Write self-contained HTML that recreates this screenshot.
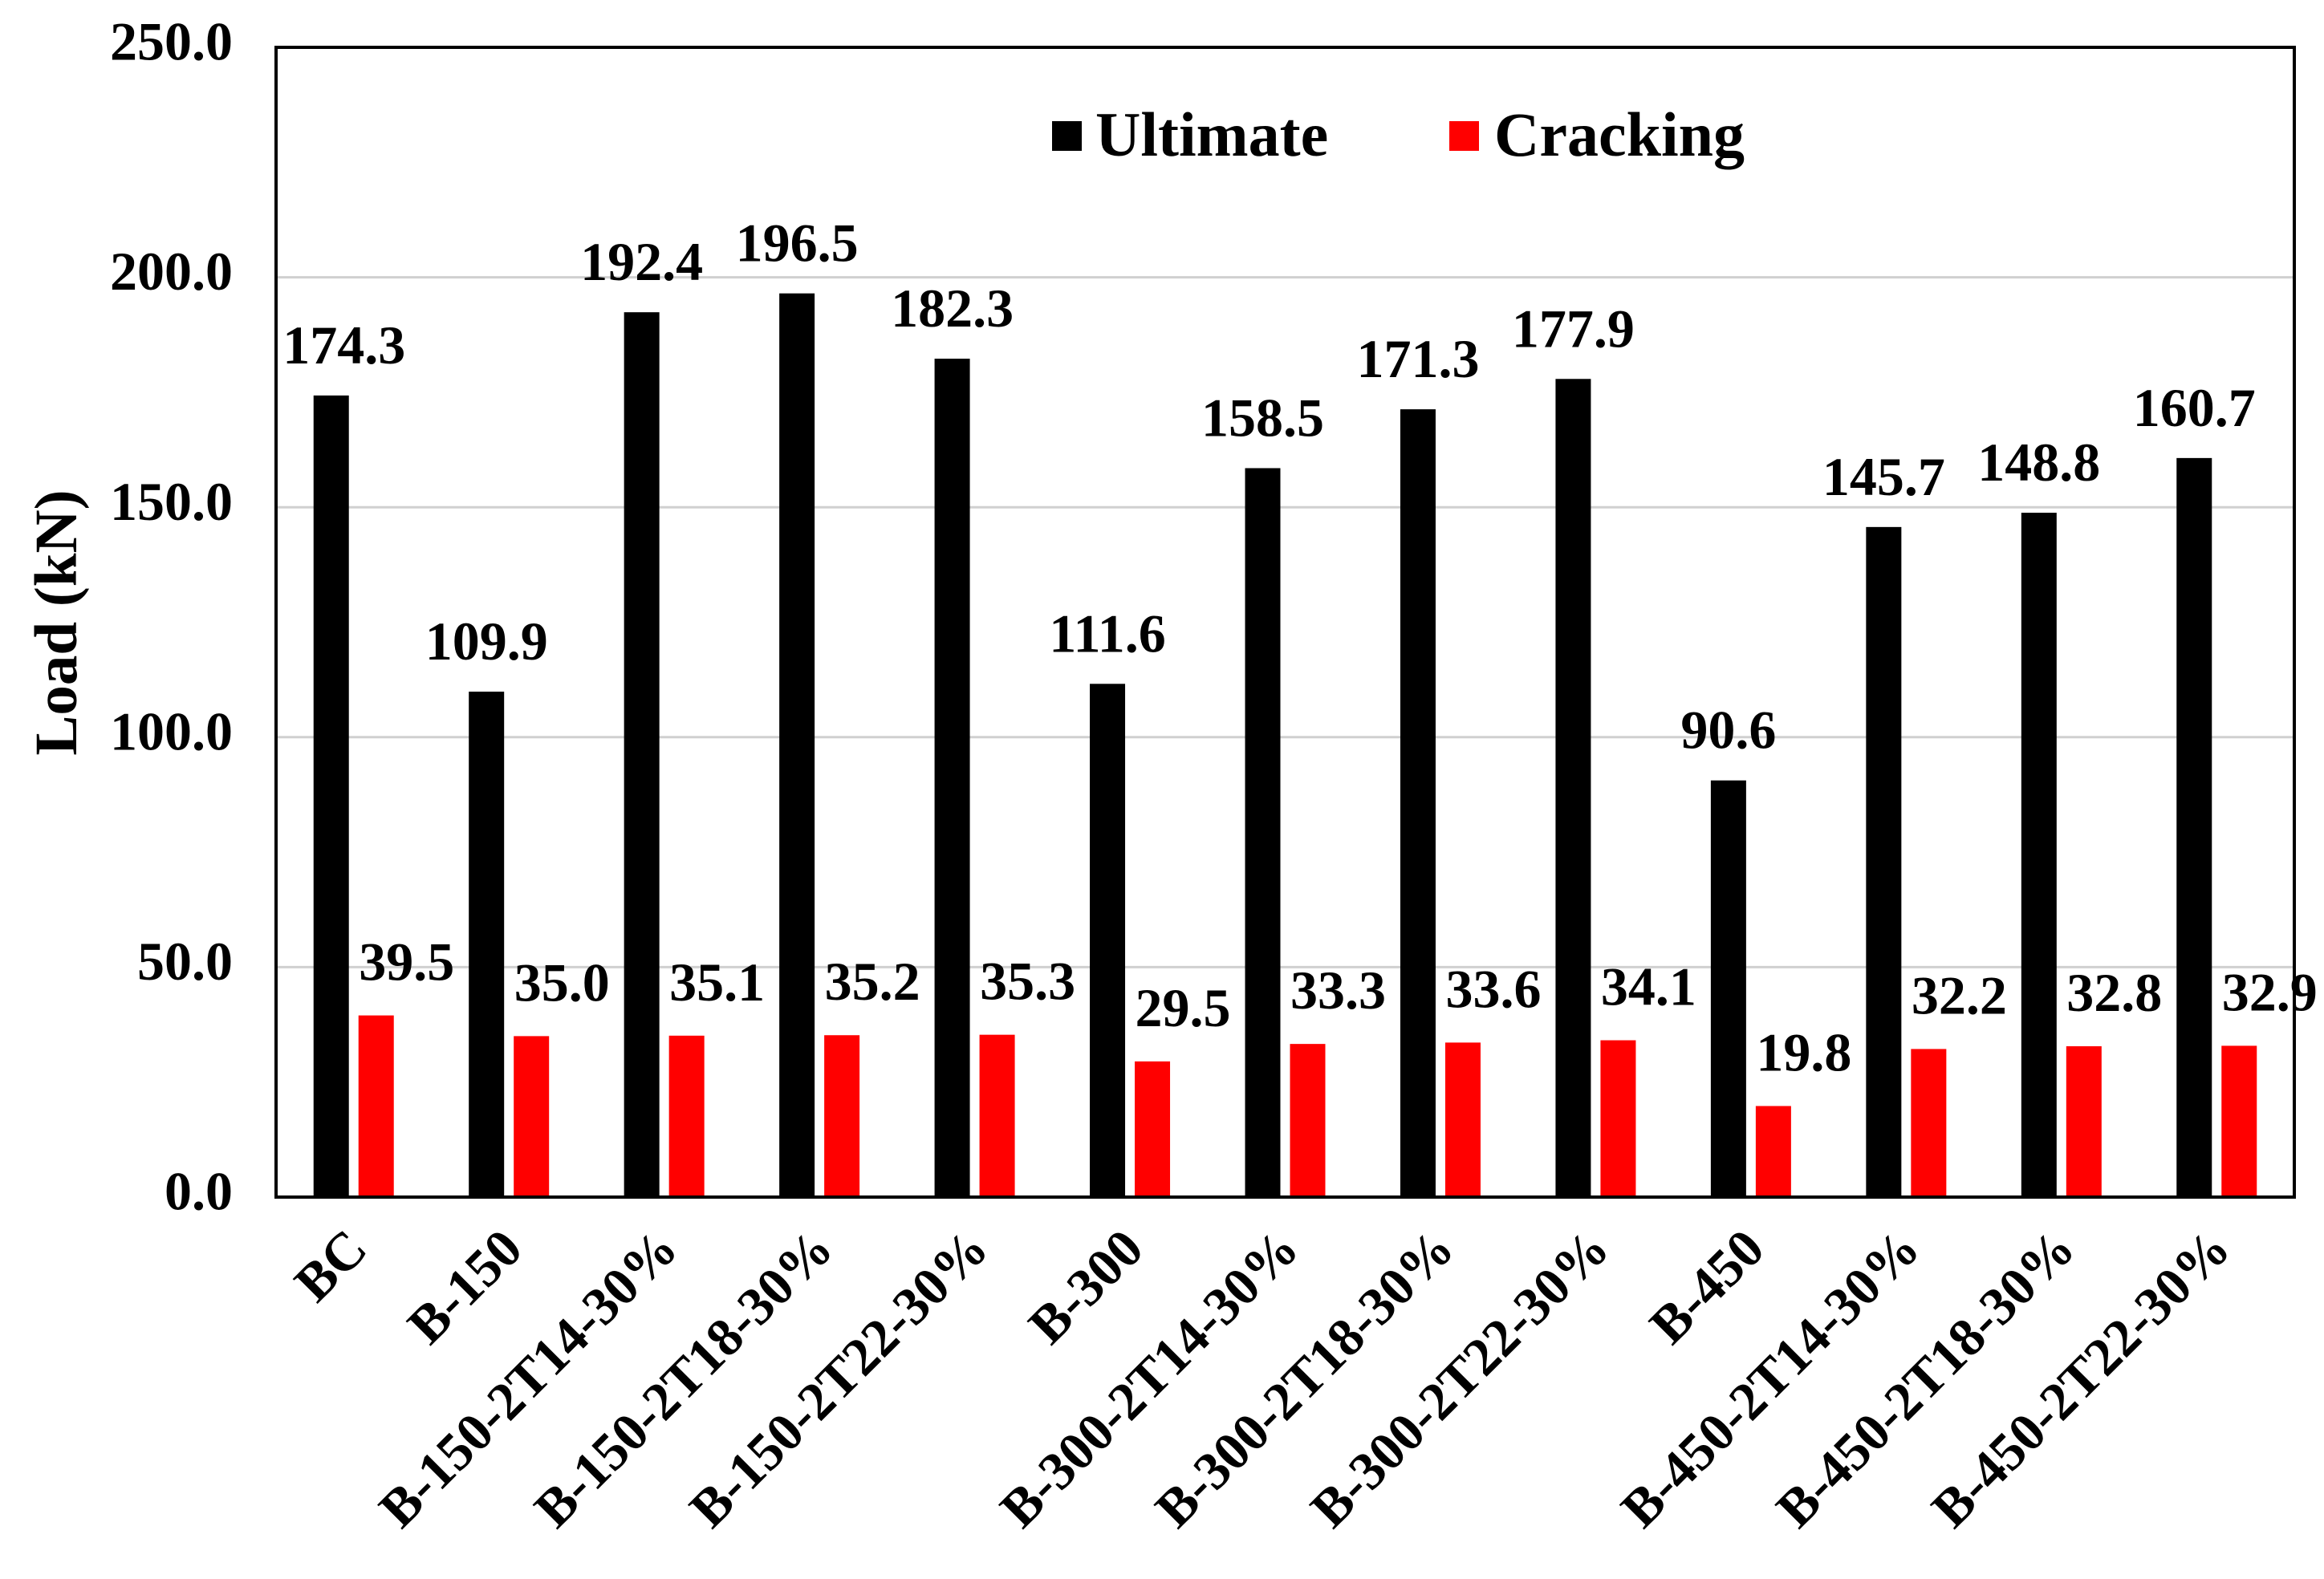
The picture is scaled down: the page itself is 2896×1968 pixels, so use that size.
<!DOCTYPE html>
<html><head><meta charset="utf-8"><style>
html,body{margin:0;padding:0;background:#fff;}
svg{display:block;font-family:"Liberation Serif",serif;font-weight:bold;}
</style></head><body>
<svg id="chart" width="2896" height="1968" viewBox="0 0 2896 1968" xmlns="http://www.w3.org/2000/svg">
<rect x="0" y="0" width="2896" height="1968" fill="#fff"/>
<g id="grid"></g>
<g id="bars"></g>
<g id="labels"></g>
<rect x="344" y="59" width="2515" height="1433" fill="none" stroke="#000" stroke-width="4"/>
<g id="yticks"></g>
<g id="xticks"></g>
<text x="78" y="776" font-size="75" text-anchor="middle" dominant-baseline="middle" transform="rotate(-90 78 776)">Load (kN)</text>
<g>
<rect x="1311" y="151" width="37" height="37" fill="#000"/>
<text x="1365" y="194" font-size="78">Ultimate</text>
<rect x="1806" y="151" width="37" height="37" fill="#ff0000"/>
<text x="1862" y="194" font-size="78">Cracking</text>
</g>
</svg>
<script>
const categories=["BC","B-150","B-150-2T14-30%","B-150-2T18-30%","B-150-2T22-30%","B-300","B-300-2T14-30%","B-300-2T18-30%","B-300-2T22-30%","B-450","B-450-2T14-30%","B-450-2T18-30%","B-450-2T22-30%"];
const ultimate=[174.3,109.9,192.4,196.5,182.3,111.6,158.5,171.3,177.9,90.6,145.7,148.8,160.7];
const cracking=[39.5,35.0,35.1,35.2,35.3,29.5,33.3,33.6,34.1,19.8,32.2,32.8,32.9];
const yTicks=[0,50,100,150,200,250];

const NS="http://www.w3.org/2000/svg";
const L=344,R=2859,T=59,B=1492,YMAX=250;
const band=(R-L)/categories.length;
function y(v){return B-(v/YMAX)*(B-T);}
function xc(i){return L+(i+0.5)*band;}
function mk(tag,attrs,parent,txt){const e=document.createElementNS(NS,tag);for(const k in attrs)e.setAttribute(k,attrs[k]);if(txt!==undefined)e.textContent=txt;document.getElementById(parent).appendChild(e);return e;}

yTicks.forEach(t=>{
  if(t>0&&t<YMAX){const g=mk('line',{x1:L,x2:R,y1:y(t),y2:y(t),stroke:'#d0d0d0','stroke-width':3},'grid');
  
  }
  const tl=mk('text',{x:290,y:y(t),'font-size':68,'text-anchor':'end','dominant-baseline':'middle'},'yticks',t.toFixed(1));
  
  
});
const bw=44,off=28;
categories.forEach((c,i)=>{
  const cx=xc(i);
  const b1=mk('rect',{x:cx-off-bw/2,y:y(ultimate[i]),width:bw,height:B-y(ultimate[i]),fill:'#000'},'bars');
  
  
  const b2=mk('rect',{x:cx+off-bw/2,y:y(cracking[i]),width:bw,height:B-y(cracking[i]),fill:'#ff0000'},'bars');
  
  
  const l1=mk('text',{x:i===0?cx-off+16:cx-off,y:y(ultimate[i])-40,'font-size':68,'text-anchor':'middle'},'labels',ultimate[i].toFixed(1));
  
  
  const l2=mk('text',{x:cx+off+38,y:y(cracking[i])-44,'font-size':68,'text-anchor':'middle'},'labels',cracking[i].toFixed(1));
  
  
  const ex=cx+20,ey=1560;
  const xl=mk('text',{x:ex,y:ey,'font-size':67,'text-anchor':'end',transform:`rotate(-45 ${ex} ${ey})`},'xticks',c);
  
  
});
</script>
</body></html>
